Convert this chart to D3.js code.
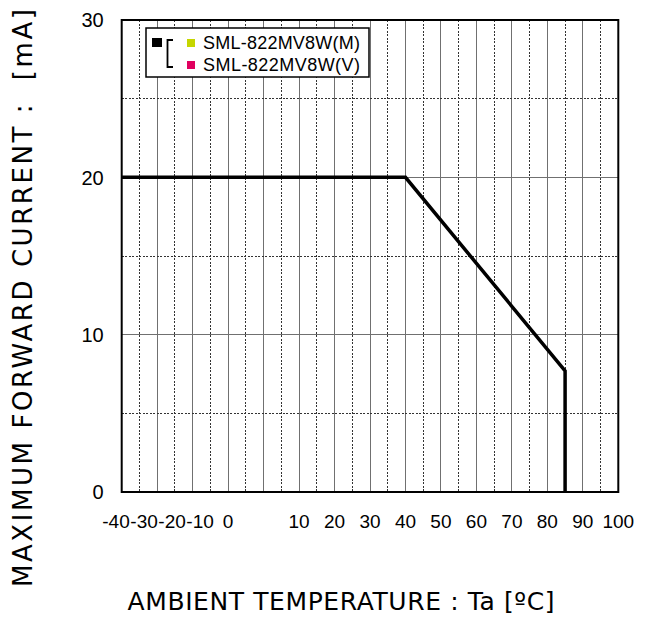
<!DOCTYPE html>
<html>
<head>
<meta charset="utf-8">
<script src="https://cdn.jsdelivr.net/npm/d3@7"></script>
<style>
  html, body { margin: 0; padding: 0; background: #fff; }
  svg { display: block; }
  text { white-space: pre; }
</style>
</head>
<body>
<svg id="chart" width="653" height="625"></svg>
<script>
// ---- data ----
const tempC = [-40, 40, 85, 85];          // ambient temperature (°C)
const currentMA = [20, 20, 7.7, 0];       // max forward current (mA)

const xTickLabels = ["-40","-30","-20","-10","0","10","20","30","40","50","60","70","80","90","100"];
const xTickLabelAt = [-41.6, -33.7, -25.8, -17.9, -10, 10, 20, 30, 40, 50, 60, 70, 80, 90, 100];
const yTickValues = [0, 10, 20, 30];
const xMajorGrid = [-30, -20, -10, 0, 10, 20, 30, 40, 50, 60, 70, 80, 90];
const xMinorGrid = [-35, -25, -15, -5, 5, 15, 25, 35, 45, 55, 65, 75, 85, 95];
const yMajorGrid = [10, 20];
const yMinorGrid = [5, 15, 25];

const legendNames = ["SML-822MV8W(M)", "SML-822MV8W(V)"];
const legendColors = ["#c5d600", "#e0005f"];

// ---- layout ----
const svg = d3.select("#chart");
const L = 121.7, R = 618.3, T = 20, B = 492;
const x = d3.scaleLinear().domain([-40, 100]).range([L, R]);
const y = d3.scaleLinear().domain([0, 30]).range([B, T]);

const sans = "Arial, 'Liberation Sans', sans-serif";
const titleFont = "'DejaVu Sans', Verdana, sans-serif";

// grid
const g = svg.append("g");
g.selectAll("line.xmaj").data(xMajorGrid).join("line")
  .attr("x1", d => x(d)).attr("x2", d => x(d)).attr("y1", T).attr("y2", B)
  .attr("stroke", "#707070").attr("stroke-width", 1).attr("shape-rendering", "crispEdges");
g.selectAll("line.xmin").data(xMinorGrid).join("line")
  .attr("x1", d => x(d)).attr("x2", d => x(d)).attr("y1", T).attr("y2", B)
  .attr("stroke", "#333").attr("stroke-width", 1).attr("stroke-dasharray", "2,1.5").attr("shape-rendering", "crispEdges");
g.selectAll("line.ymaj").data(yMajorGrid).join("line")
  .attr("y1", d => y(d)).attr("y2", d => y(d)).attr("x1", L).attr("x2", R)
  .attr("stroke", "#707070").attr("stroke-width", 1).attr("shape-rendering", "crispEdges");
g.selectAll("line.ymin").data(yMinorGrid).join("line")
  .attr("y1", d => y(d)).attr("y2", d => y(d)).attr("x1", L).attr("x2", R)
  .attr("stroke", "#333").attr("stroke-width", 1).attr("stroke-dasharray", "2,1.5").attr("shape-rendering", "crispEdges");

// frame
svg.append("rect").attr("x", L).attr("y", T).attr("width", R - L).attr("height", B - T)
  .attr("fill", "none").attr("stroke", "#000").attr("stroke-width", 2);

// data line
const pts = tempC.map((t, i) => [t, currentMA[i]]);
svg.append("path").datum(pts)
  .attr("d", d3.line().x(d => x(d[0])).y(d => y(d[1])))
  .attr("fill", "none").attr("stroke", "#000").attr("stroke-width", 3.5)
  .attr("stroke-linejoin", "miter");

// y tick labels
svg.selectAll("text.ytick").data(yTickValues).join("text")
  .attr("x", L - 18).attr("y", d => y(d)).attr("dy", "0.36em")
  .attr("text-anchor", "end").attr("font-family", sans).attr("font-size", 20)
  .attr("fill", "#000").text(d => d);

// x tick labels
svg.selectAll("text.xtick").data(xTickLabels).join("text")
  .attr("x", (d, i) => x(xTickLabelAt[i])).attr("y", 528)
  .attr("text-anchor", "middle").attr("font-family", sans).attr("font-size", 19)
  .attr("fill", "#000").text(d => d);

// axis titles
svg.append("text").attr("x", 341).attr("y", 610).attr("text-anchor", "middle")
  .attr("font-family", titleFont).attr("font-size", 25).attr("fill", "#000")
  .attr("textLength", 427).attr("lengthAdjust", "spacing")
  .text("AMBIENT TEMPERATURE : Ta [ºC]");
svg.append("text").attr("transform", "translate(32,298) rotate(-90)").attr("text-anchor", "middle")
  .attr("font-family", titleFont).attr("font-size", 26).attr("fill", "#000")
  .attr("textLength", 578).attr("lengthAdjust", "spacing")
  .text("MAXIMUM FORWARD CURRENT :  [mA]");

// legend
const lg = svg.append("g");
lg.append("rect").attr("x", 146).attr("y", 28).attr("width", 223).attr("height", 49)
  .attr("fill", "#fff").attr("stroke", "#000").attr("stroke-width", 1.5);
lg.append("rect").attr("x", 152).attr("y", 38).attr("width", 10).attr("height", 9).attr("fill", "#000");
lg.append("path").attr("d", "M173,40 H167.5 V67 H173")
  .attr("fill", "none").attr("stroke", "#000").attr("stroke-width", 1.8);
legendNames.forEach((name, i) => {
  lg.append("rect").attr("x", 187).attr("y", 39 + i * 22).attr("width", 8).attr("height", 8)
    .attr("fill", legendColors[i]);
  lg.append("text").attr("x", 203).attr("y", 49 + i * 22)
    .attr("font-family", sans).attr("font-size", 18).attr("fill", "#000")
    .attr("textLength", 157).attr("lengthAdjust", "spacing").text(name);
});
</script>
</body>
</html>
